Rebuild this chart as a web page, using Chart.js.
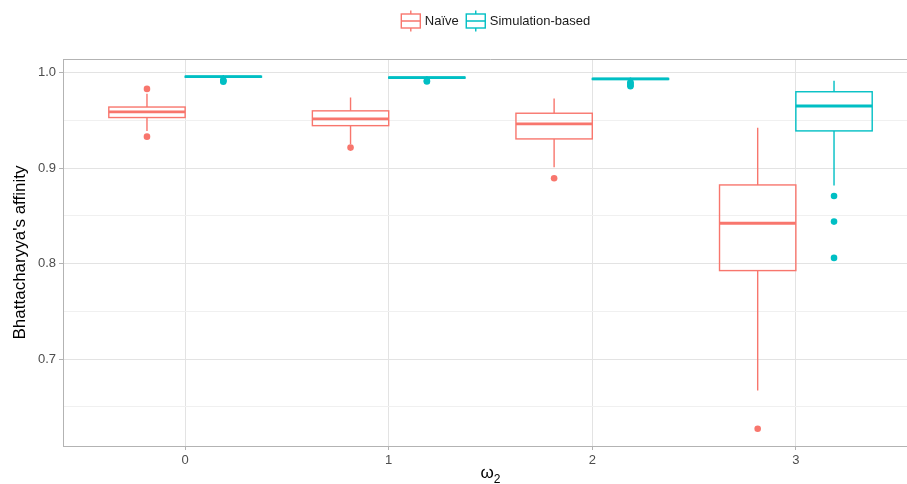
<!DOCTYPE html>
<html>
<head>
<meta charset="utf-8">
<script src="https://cdn.jsdelivr.net/npm/chart.js@4"></script>
<style>
  html, body { margin: 0; padding: 0; background: #ffffff; overflow: hidden; }
  #wrap { width: 907px; height: 484px; overflow: hidden; }
</style>
</head>
<body>
<div id="wrap"><canvas id="c" width="925" height="484"></canvas></div>
<script>
// ω₂ levels on the x axis
const categories = [0, 1, 2, 3];
const seriesNames = ['Naïve', 'Simulation-based'];

// Naïve estimator: whisker ends, quartiles, median, outliers
const naiveLower  = [0.939, 0.925, 0.901, 0.667];
const naiveQ1     = [0.953, 0.9445, 0.9306, 0.7927];
const naiveMedian = [0.959, 0.9515, 0.9463, 0.8423];
const naiveQ3     = [0.964, 0.960, 0.9575, 0.8824];
const naiveUpper  = [0.978, 0.974, 0.973, 0.9424];
const naiveOutliers = [[0.983, 0.933], [0.9215], [0.8894], [0.627]];

// Simulation-based estimator
const simLower  = [0.9935, 0.9925, 0.9905, 0.8817];
const simQ1     = [0.9953, 0.9943, 0.9929, 0.939];
const simMedian = [0.9958, 0.9948, 0.9934, 0.9651];
const simQ3     = [0.9962, 0.9953, 0.9939, 0.980];
const simUpper  = [0.9975, 0.9965, 0.995, 0.9916];
const simOutliers = [[0.9905, 0.9915, 0.992], [0.9908, 0.9915], [0.9858, 0.987, 0.9885, 0.99], [0.8709, 0.844, 0.806]];

// y axis: labelled ticks and the minor grid lines between them
const yMajorTicks = [0.7, 0.8, 0.9, 1.0];
const yMinorTicks = [0.65, 0.75, 0.85, 0.95];

const NAIVE_COLOR = '#F8766D';
const SIM_COLOR = '#00BFC4';
const FONT = '"Liberation Sans", Arial, Helvetica, sans-serif';
const DODGE = 0.1875;     // half of the dodge slot (0.75 / 4)
const HALF_BOX = 0.1875;  // half box width in category units

const groups = [
  { name: seriesNames[0], color: NAIVE_COLOR, offset: -DODGE,
    lower: naiveLower, q1: naiveQ1, median: naiveMedian, q3: naiveQ3, upper: naiveUpper, outliers: naiveOutliers },
  { name: seriesNames[1], color: SIM_COLOR, offset: DODGE,
    lower: simLower, q1: simQ1, median: simMedian, q3: simQ3, upper: simUpper, outliers: simOutliers }
];

function outlierPoints(g) {
  const pts = [];
  categories.forEach((c, i) => g.outliers[i].forEach(v => pts.push({ x: c + g.offset, y: v })));
  return pts;
}

// Boxes, whiskers and medians, placed through the chart's own scales
const boxPlugin = {
  id: 'boxes',
  beforeDatasetsDraw(chart) {
    const { ctx, chartArea, scales: { x, y } } = chart;
    ctx.save();
    ctx.beginPath();
    ctx.rect(chartArea.left, chartArea.top, chartArea.right - chartArea.left, chartArea.bottom - chartArea.top);
    ctx.clip();
    groups.forEach(g => {
      categories.forEach((c, i) => {
        const cx = c + g.offset;
        const xl = x.getPixelForValue(cx - HALF_BOX);
        const xr = x.getPixelForValue(cx + HALF_BOX);
        const xc = x.getPixelForValue(cx);
        const yLo = y.getPixelForValue(g.lower[i]);
        const yQ1 = y.getPixelForValue(g.q1[i]);
        const yMed = y.getPixelForValue(g.median[i]);
        const yQ3 = y.getPixelForValue(g.q3[i]);
        const yHi = y.getPixelForValue(g.upper[i]);
        ctx.strokeStyle = g.color;
        ctx.lineWidth = 1.4;
        ctx.beginPath();
        ctx.moveTo(xc, yHi); ctx.lineTo(xc, yQ3);
        ctx.moveTo(xc, yQ1); ctx.lineTo(xc, yLo);
        ctx.stroke();
        ctx.strokeRect(xl, yQ3, xr - xl, yQ1 - yQ3);
        ctx.lineWidth = 2.8;
        ctx.beginPath();
        ctx.moveTo(xl, yMed); ctx.lineTo(xr, yMed);
        ctx.stroke();
      });
    });
    ctx.restore();
    // top edge of the panel border
    ctx.save();
    ctx.strokeStyle = '#B3B3B3';
    ctx.lineWidth = 1;
    ctx.beginPath();
    ctx.moveTo(chartArea.left, chartArea.top + 0.5);
    ctx.lineTo(chartArea.right, chartArea.top + 0.5);
    ctx.stroke();
    ctx.restore();
  }
};

// Legend with small box-plot keys above the panel, and the ω₂ axis title
const legendPlugin = {
  id: 'boxLegend',
  afterDraw(chart) {
    const { ctx, chartArea } = chart;
    ctx.save();
    ctx.font = '13px ' + FONT;
    const keyW = 20, gapText = 4, gapItem = 7;
    const widths = groups.map(g => ctx.measureText(g.name).width);
    const total = groups.length * (keyW + gapText) + widths.reduce((a, b) => a + b, 0) + gapItem * (groups.length - 1);
    let xPos = (chartArea.left + chartArea.right) / 2 + 5 - total / 2;
    const yMid = 21;
    groups.forEach((g, i) => {
      ctx.strokeStyle = g.color;
      ctx.lineWidth = 1.4;
      ctx.strokeRect(xPos + 0.5, yMid - 7, keyW - 1, 14);
      ctx.beginPath();
      ctx.moveTo(xPos + 0.5, yMid); ctx.lineTo(xPos + keyW - 0.5, yMid);
      ctx.moveTo(xPos + keyW / 2, yMid - 10.5); ctx.lineTo(xPos + keyW / 2, yMid - 7);
      ctx.moveTo(xPos + keyW / 2, yMid + 7); ctx.lineTo(xPos + keyW / 2, yMid + 10.5);
      ctx.stroke();
      ctx.fillStyle = '#1A1A1A';
      ctx.textBaseline = 'middle';
      ctx.textAlign = 'left';
      ctx.fillText(g.name, xPos + keyW + gapText, yMid);
      xPos += keyW + gapText + widths[i] + gapItem;
    });

    // x axis title: ω with subscript 2
    ctx.fillStyle = '#000000';
    ctx.textBaseline = 'alphabetic';
    ctx.font = '17px ' + FONT;
    const wOmega = ctx.measureText('ω').width;
    ctx.font = '12px ' + FONT;
    const wSub = ctx.measureText('2').width;
    const xStart = (chartArea.left + chartArea.right) / 2 - (wOmega + wSub) / 2;
    ctx.font = '17px ' + FONT;
    ctx.fillText('ω', xStart, 478);
    ctx.font = '12px ' + FONT;
    ctx.fillText('2', xStart + wOmega, 483);
    ctx.restore();
  }
};

const isMajor = v => yMajorTicks.some(t => Math.abs(t - v) < 1e-6);

new Chart(document.getElementById('c'), {
  type: 'scatter',
  data: {
    datasets: groups.map(g => ({
      label: g.name,
      data: outlierPoints(g),
      backgroundColor: g.color,
      borderWidth: 0,
      pointRadius: 3.3,
      pointHoverRadius: 3.3
    }))
  },
  options: {
    responsive: false,
    animation: false,
    events: [],
    layout: { padding: { top: 59, right: 7, left: 0, bottom: 0 } },
    plugins: { legend: { display: false }, tooltip: { enabled: false } },
    scales: {
      x: {
        type: 'linear',
        min: -0.6,
        max: 3.6,
        afterBuildTicks: s => { s.ticks = categories.map(v => ({ value: v })); },
        afterFit: s => { s.height = 38; },
        ticks: {
          color: '#4D4D4D',
          font: { family: FONT, size: 13 },
          padding: 3,
          callback: v => String(v)
        },
        grid: { color: '#E3E3E3', lineWidth: 1, tickColor: '#B3B3B3', tickLength: 4 },
        border: { display: true, color: '#B3B3B3', width: 1 },
        title: { display: false }
      },
      y: {
        min: 0.609,
        max: 1.0143,
        afterBuildTicks: s => {
          s.ticks = yMajorTicks.concat(yMinorTicks).sort((a, b) => a - b).map(v => ({ value: v }));
        },
        afterFit: s => { s.width = 63; },
        ticks: {
          color: '#4D4D4D',
          font: { family: FONT, size: 13 },
          padding: 3,
          callback: v => isMajor(v) ? v.toFixed(1) : ''
        },
        grid: {
          color: c => isMajor(c.tick.value) ? '#E3E3E3' : '#F0F0F0',
          lineWidth: 1,
          tickColor: c => isMajor(c.tick.value) ? '#B3B3B3' : 'rgba(0,0,0,0)',
          tickLength: 4
        },
        border: { display: true, color: '#B3B3B3', width: 1 },
        title: {
          display: true,
          text: "Bhattacharyya's affinity",
          color: '#000000',
          font: { family: FONT, size: 17 },
          padding: { top: 10, bottom: 0 }
        }
      }
    }
  },
  plugins: [boxPlugin, legendPlugin]
});
</script>
</body>
</html>
